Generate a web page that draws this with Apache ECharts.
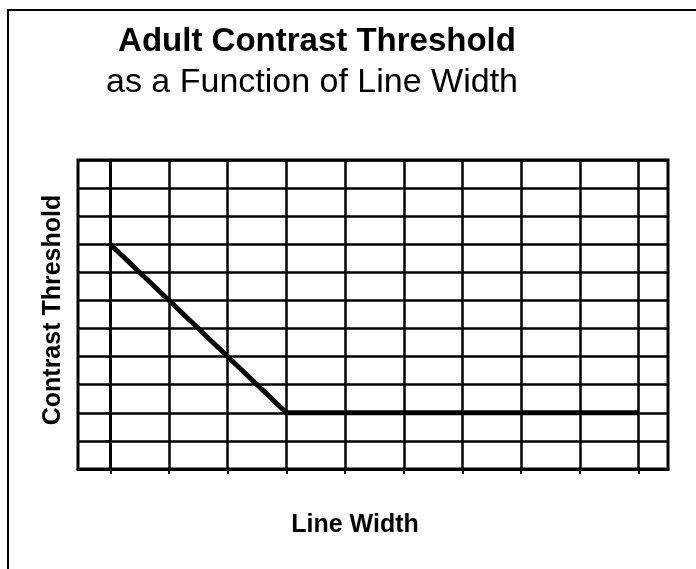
<!DOCTYPE html>
<html>
<head>
<meta charset="utf-8">
<script src="https://cdn.jsdelivr.net/npm/echarts@6.0.0/dist/echarts.min.js"></script>
<style>
html,body{
    margin: 0;
    padding: 0;
    background: #ffffff;
}
#wrap{
    position: relative;
    width: 696px;
    height: 569px;
    overflow: hidden;
}
#threshold{
    width: 696px;
    height: 569px;
}
/* the scanned frame: only the top and left edges are on the page */
#frame{
    position: absolute;
    left: 7px;
    top: 9px;
    width: 720px;
    height: 600px;
    border-left: 2px solid #000;
    border-top: 2px solid #000;
    pointer-events: none;
}
</style>
</head>
<body>
<div id="wrap">
    <div id="threshold"></div>
    <div id="frame"></div>
</div>
<script>
// line width (grid steps) and contrast threshold (grid steps)
let lineWidth = [0, 3, 9]
let threshold = [8, 2, 2]
// where the vertical grid lines sit
let xTicks = [0, 1, 2, 3, 4, 5, 6, 7, 8, 9]

let font = '"Liberation Sans", Arial, Helvetica, sans-serif'

let points = new Array()
for (let i in lineWidth) {
    points.push([lineWidth[i], threshold[i]])
}

let myChart = echarts.init(document.getElementById('threshold'))
let option = {
    animation: false,
    backgroundColor: '#ffffff',
    title: [
        {
            text: 'Adult Contrast Threshold',
            left: 317,
            top: 25,
            padding: 0,
            textAlign: 'center',
            textStyle: {
                fontFamily: font,
                fontSize: 33,
                fontWeight: 'bold',
                color: '#000'
            }
        },
        {
            text: 'as a Function of Line Width',
            left: 312,
            top: 66,
            padding: 0,
            textAlign: 'center',
            textStyle: {
                fontFamily: font,
                fontSize: 34,
                fontWeight: 'normal',
                color: '#000'
            }
        }
    ],
    grid: {
        left: 78,
        right: 28,
        top: 160,
        bottom: 100,
        show: true,
        borderColor: '#000',
        borderWidth: 3
    },
    xAxis: {
        type: 'value',
        min: -0.55,
        max: 9.5,
        name: 'Line Width',
        nameLocation: 'middle',
        nameGap: 44,
        nameTextStyle: {
            fontFamily: font,
            fontSize: 25,
            fontWeight: 'bold',
            color: '#000',
            padding: [0, 36, 0, 0]
        },
        axisLine: { show: true, lineStyle: { color: '#000', width: 3 } },
        axisTick: {
            show: true,
            customValues: xTicks,
            length: 5,
            lineStyle: { color: '#000', width: 2 }
        },
        axisLabel: { show: false },
        splitLine: { show: true, lineStyle: { color: '#000', width: 2.5 } }
    },
    yAxis: {
        type: 'value',
        min: 0,
        max: 11,
        interval: 1,
        name: 'Contrast Threshold',
        nameLocation: 'middle',
        nameGap: 12,
        nameTextStyle: {
            fontFamily: font,
            fontSize: 25,
            fontWeight: 'bold',
            color: '#000',
            padding: [0, 0, 0, 9]
        },
        axisLine: { show: true, lineStyle: { color: '#000', width: 3 } },
        axisTick: {
            show: true,
            length: 4,
            lineStyle: { color: '#000', width: 2 }
        },
        axisLabel: { show: false },
        splitLine: { show: true, lineStyle: { color: '#000', width: 2.5 } }
    },
    series: [
        {
            type: 'line',
            data: points,
            showSymbol: false,
            symbol: 'none',
            lineStyle: { color: '#000', width: 5 },
            z: 5
        }
    ]
}
myChart.setOption(option)
</script>
</body>
</html>
